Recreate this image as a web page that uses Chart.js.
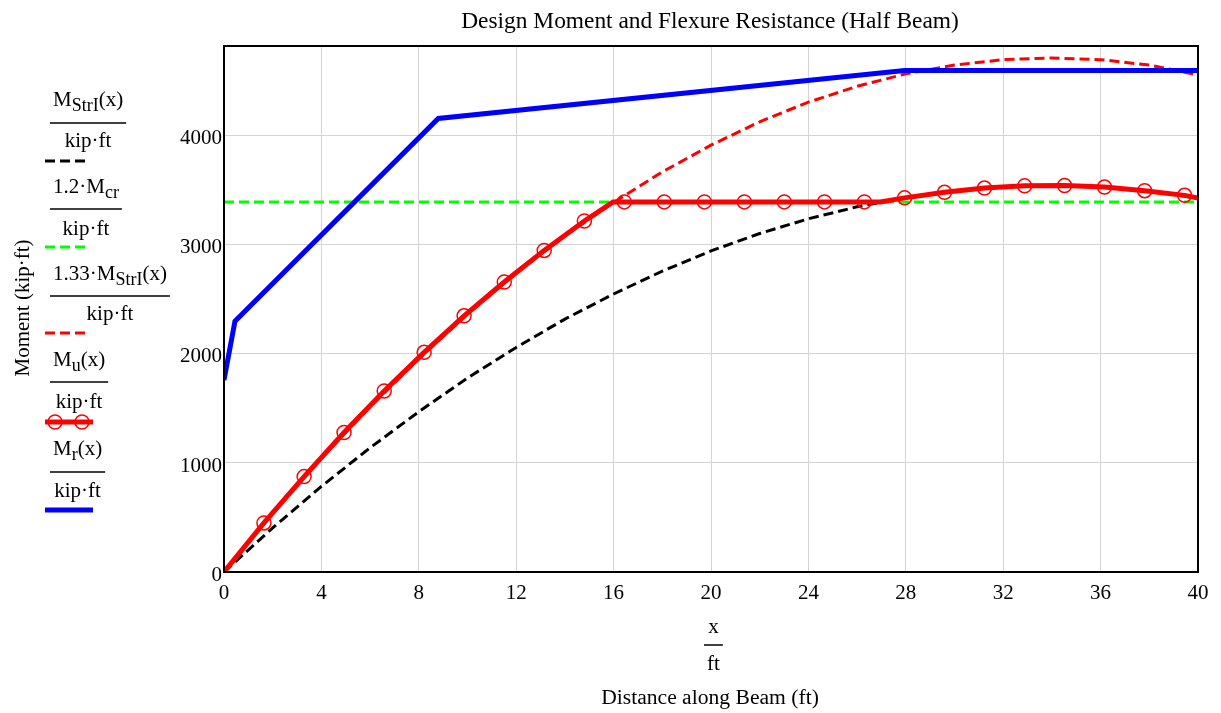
<!DOCTYPE html>
<html>
<head>
<meta charset="utf-8">
<script src="https://cdn.jsdelivr.net/npm/chart.js@4.4.1/dist/chart.umd.min.js"></script>
<style>
  html, body { margin: 0; padding: 0; background: #fff; }
  #wrap { width: 1221px; height: 713px; }
</style>
</head>
<body>
<div id="wrap"><canvas id="graficoMomento" width="1221" height="713"></canvas></div>
<script>
// posições ao longo da viga (ft) e momentos (kip·ft)
const xStr = [0, 2, 4, 6, 8, 10, 12, 14, 16, 18, 20, 22, 24, 26, 28, 30, 32, 34, 36, 38, 40];
const mStrI = [0, 405, 785, 1140, 1470, 1780, 2060, 2320, 2550, 2760, 2945, 3105, 3240, 3350, 3435, 3495, 3535, 3545, 3535, 3495, 3430];
const m133StrI = [0, 540, 1045, 1515, 1955, 2365, 2740, 3085, 3390, 3670, 3915, 4130, 4310, 4455, 4570, 4650, 4700, 4715, 4700, 4650, 4560];

const xCr = [0, 40];
const m12Cr = [3395, 3395];

const xMu = [0, 1.64, 3.29, 4.93, 6.58, 8.22, 9.86, 11.51, 13.15, 14.8, 15.98, 16.44, 18.08, 19.73, 21.37, 23.01, 24.66, 26.3, 26.95, 27.95, 29.59, 31.23, 32.88, 34.52, 36.16, 37.81, 39.45, 40];
const mU = [0, 450, 875, 1280, 1660, 2015, 2350, 2660, 2950, 3220, 3395, 3395, 3395, 3395, 3395, 3395, 3395, 3395, 3395, 3432, 3483, 3522, 3542, 3545, 3531, 3498, 3455, 3430];
const muSemMarca = [0, 15.98, 26.95, 40]; // pontos sem símbolo

const xMr = [0, 0.45, 8.8, 27.95, 40];
const mR = [1760, 2300, 4160, 4600, 4600];

const xTickVals = [0, 4, 8, 12, 16, 20, 24, 28, 32, 36, 40];
const yTickVals = [0, 1000, 2000, 3000, 4000];

const FONTE = "Liberation Serif";
const pts = (xs, ys) => xs.map((x, i) => ({ x: x, y: ys[i] }));

// ==============================
// textos com subscrito
// ==============================
function larguraRuns(ctx, runs) {
    let w = 0;
    runs.forEach(r => {
        ctx.font = (r[1] ? "18px " : "21px ") + FONTE;
        w += ctx.measureText(r[0]).width;
    });
    return w;
}
function desenhaRuns(ctx, runs, x, y) {
    ctx.textAlign = "left";
    ctx.textBaseline = "alphabetic";
    runs.forEach(r => {
        ctx.font = (r[1] ? "18px " : "21px ") + FONTE;
        ctx.fillText(r[0], x, r[1] ? y + 5 : y);
        x += ctx.measureText(r[0]).width;
    });
}
function fracao(ctx, num, den, x0, yNum, yBar, yDen) {
    const wn = larguraRuns(ctx, num);
    const wd = larguraRuns(ctx, den);
    const w = Math.max(wn, wd) + 6;
    const cx = x0 + w / 2;
    desenhaRuns(ctx, num, cx - wn / 2, yNum);
    desenhaRuns(ctx, den, cx - wd / 2, yDen);
    ctx.strokeStyle = "#000";
    ctx.lineWidth = 1.5;
    ctx.setLineDash([]);
    ctx.beginPath();
    ctx.moveTo(x0, yBar);
    ctx.lineTo(x0 + w, yBar);
    ctx.stroke();
}
function amostra(ctx, cor, largura, traco, x1, x2, y, circulos) {
    ctx.save();
    ctx.strokeStyle = cor;
    ctx.lineWidth = largura;
    ctx.setLineDash(traco);
    ctx.beginPath();
    ctx.moveTo(x1, y);
    ctx.lineTo(x2, y);
    ctx.stroke();
    ctx.setLineDash([]);
    ctx.lineWidth = 1.5;
    (circulos || []).forEach(cx => {
        ctx.beginPath();
        ctx.arc(cx, y, 7, 0, Math.PI * 2);
        ctx.stroke();
    });
    ctx.restore();
}

const kipft = [["kip·ft"]];
const legenda = [
    { num: [["M"], ["StrI", 1], ["(x)"]], y: [106, 123, 147, 161], cor: "#000", w: 3, dash: [10, 5], x2: 85 },
    { num: [["1.2·M"], ["cr", 1]], y: [193, 209, 235, 247], cor: "#00ff00", w: 3, dash: [10, 5], x2: 85 },
    { num: [["1.33·M"], ["StrI", 1], ["(x)"]], y: [280, 296, 320, 333], cor: "#ff0000", w: 3, dash: [10, 5], x2: 85 },
    { num: [["M"], ["u", 1], ["(x)"]], y: [366, 382, 408, 422], cor: "#ff0000", w: 5, dash: [], x2: 93, circ: [55, 82] },
    { num: [["M"], ["r", 1], ["(x)"]], y: [455, 472, 497, 510], cor: "#0000ff", w: 5, dash: [], x2: 93 }
];

const textos = {
    id: "textos",
    afterDraw(chart) {
        const ctx = chart.ctx;
        const a = chart.chartArea;
        ctx.save();
        // moldura
        ctx.strokeStyle = "#000";
        ctx.lineWidth = 2;
        ctx.setLineDash([]);
        ctx.strokeRect(a.left, a.top, a.right - a.left, a.bottom - a.top);

        ctx.fillStyle = "#000";
        ctx.textAlign = "center";
        ctx.textBaseline = "alphabetic";
        ctx.font = "23.4px " + FONTE;
        ctx.fillText("Design Moment and Flexure Resistance (Half Beam)", 710, 28);
        ctx.font = "21.6px " + FONTE;
        ctx.fillText("Distance along Beam (ft)", 710, 704);
        fracao(ctx, [["x"]], [["ft"]], 704, 633, 645, 670);

        ctx.save();
        ctx.translate(29, 308);
        ctx.rotate(-Math.PI / 2);
        ctx.font = "21px " + FONTE;
        ctx.textAlign = "center";
        ctx.fillText("Moment (kip·ft)", 0, 0);
        ctx.restore();

        legenda.forEach(l => {
            fracao(ctx, l.num, kipft, 50, l.y[0], l.y[1], l.y[2]);
            amostra(ctx, l.cor, l.w, l.dash, 45, l.x2, l.y[3], l.circ);
        });
        ctx.restore();
    }
};

const ctx = document.getElementById("graficoMomento").getContext("2d");
new Chart(ctx, {
    type: "line",
    data: {
        datasets: [
            {
                label: "Mr(x)",
                data: pts(xMr, mR),
                borderColor: "#0000ff",
                borderWidth: 5,
                pointRadius: 0,
                fill: false
            },
            {
                label: "Mu(x)",
                data: pts(xMu, mU),
                borderColor: "#ff0000",
                borderWidth: 5,
                pointStyle: "circle",
                pointRadius: c => (muSemMarca.includes(xMu[c.dataIndex]) ? 0 : 7),
                pointBorderColor: "#ff0000",
                pointBackgroundColor: "rgba(0,0,0,0)",
                pointBorderWidth: 1.5,
                fill: false
            },
            {
                label: "1.33 MStrI(x)",
                data: pts(xStr, m133StrI),
                borderColor: "#ff0000",
                borderWidth: 3,
                borderDash: [10, 5],
                pointRadius: 0,
                fill: false
            },
            {
                label: "1.2 Mcr",
                data: pts(xCr, m12Cr),
                borderColor: "#00ff00",
                borderWidth: 3,
                borderDash: [10, 5],
                pointRadius: 0,
                fill: false
            },
            {
                label: "MStrI(x)",
                data: pts(xStr, mStrI),
                borderColor: "#000000",
                borderWidth: 3,
                borderDash: [10, 5],
                pointRadius: 0,
                fill: false
            }
        ]
    },
    options: {
        responsive: false,
        animation: false,
        devicePixelRatio: 1,
        layout: { padding: { left: 0, right: 23, top: 46, bottom: 0 } },
        plugins: { legend: { display: false }, tooltip: { enabled: false } },
        scales: {
            x: {
                type: "linear",
                min: 0,
                max: 40,
                afterBuildTicks: s => { s.ticks = xTickVals.map(v => ({ value: v })); },
                afterFit: s => { s.height = 141; },
                grid: { color: "#d4d4d4", lineWidth: 1, drawTicks: false },
                border: { display: false },
                ticks: { color: "#000", font: { family: FONTE, size: 21 }, padding: 9, maxRotation: 0, autoSkip: false, callback: v => String(v) }
            },
            y: {
                type: "linear",
                min: 0,
                max: 4825,
                afterBuildTicks: s => { s.ticks = yTickVals.map(v => ({ value: v })); },
                afterFit: s => { s.width = 224; },
                grid: { color: "#d4d4d4", lineWidth: 1, drawTicks: false },
                border: { display: false },
                ticks: { color: "#000", font: { family: FONTE, size: 21 }, padding: 2, labelOffset: 3, callback: v => String(v) }
            }
        }
    },
    plugins: [textos]
});
</script>
</body>
</html>
